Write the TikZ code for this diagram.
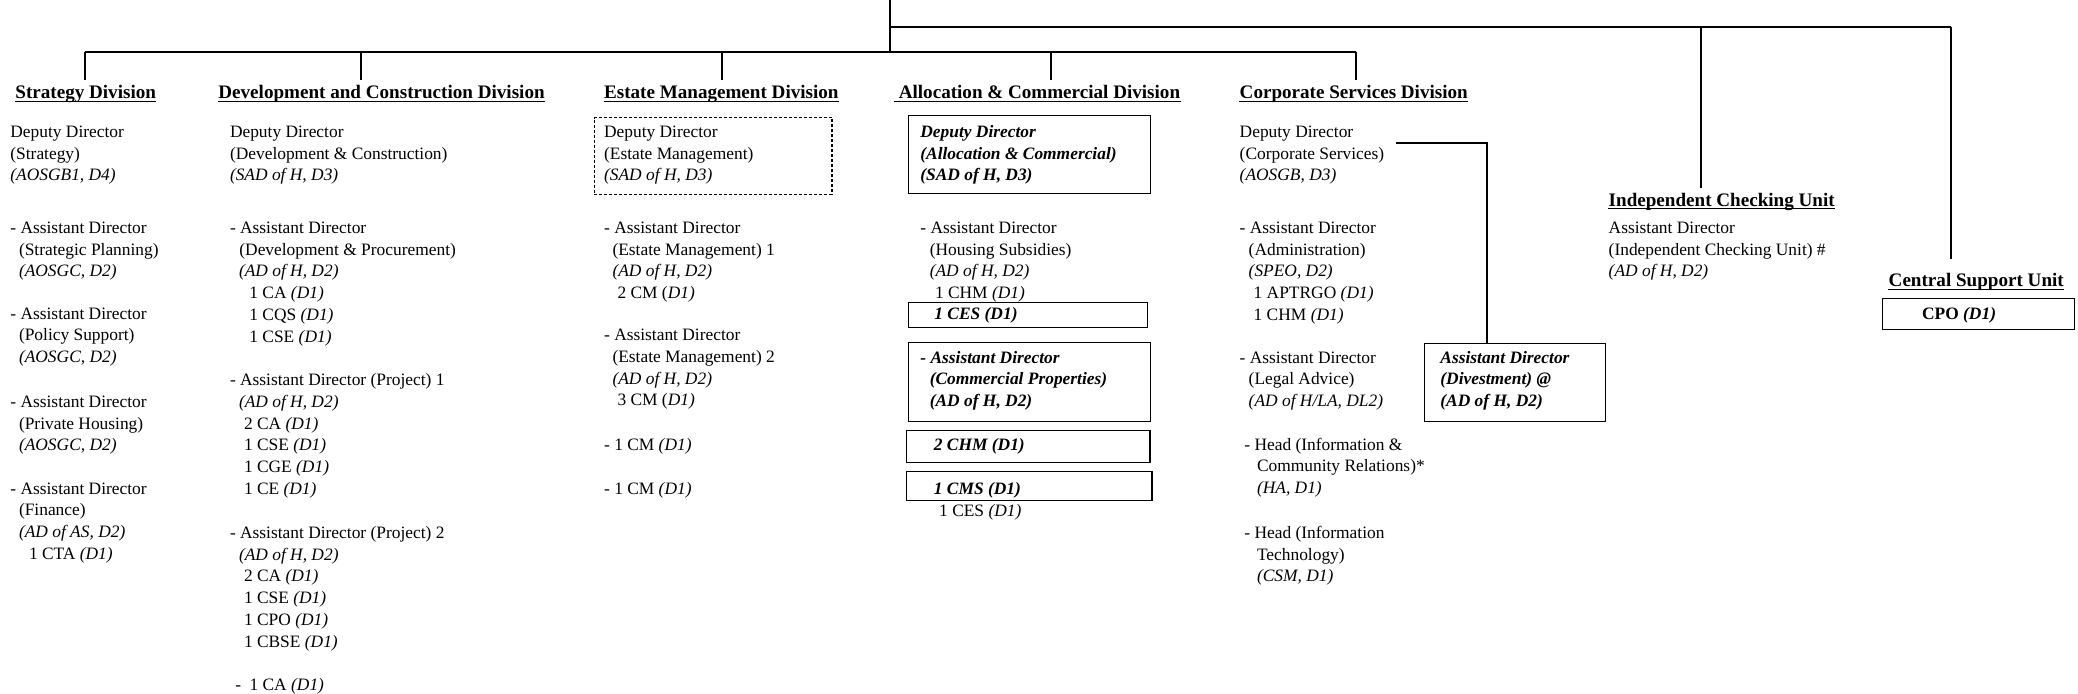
\documentclass[tikz,border=0pt]{standalone}
\usepackage{fontspec}
\setmainfont{Liberation Serif}
\begin{document}
\begin{tikzpicture}[x=0.5pt,y=-0.5pt,
  conn/.style={line width=0.85pt},
  ul/.style={line width=0.6pt},
  hd/.style={anchor=base west, inner sep=0pt, font=\fontsize{9.55}{11}\selectfont\bfseries},
  txt/.style={anchor=north west, inner sep=0pt, align=left, font=\fontsize{8.7}{10.85}\selectfont},
  bi/.style={txt, font=\fontsize{8.7}{10.85}\selectfont\bfseries\itshape},
  bx/.style={draw, line width=0.55pt, anchor=north west, inner sep=0pt},
  dbx/.style={bx, dash pattern=on 1.6pt off 0.9pt}]
\useasboundingbox (0,0) rectangle (2078,694);

% ---------- headings ----------
\node[hd] (hS) at (15,99) {Strategy Division};
\node[hd] (hD) at (218,99) {Development and Construction Division};
\node[hd] (hE) at (603.7,99) {Estate Management Division};
\node[hd] (hA) at (894,99) {\hspace*{2.2pt}Allocation \& Commercial Division};
\node[hd] (hC) at (1239.3,99) {Corporate Services Division};
\node[hd] (hI) at (1608.3,206.3) {Independent Checking Unit};
\node[hd] (hU) at (1888.3,287) {Central Support Unit};
\foreach \h in {hS,hD,hE,hA,hC,hI,hU}
  \draw[ul] ([yshift=-1.2pt]\h.base west) -- ([yshift=-1.2pt]\h.base east);

% ---------- bus connectors ----------
\coordinate (top) at (890,0);
\coordinate (b1) at (890,51.7);
\coordinate (b2) at (890,26.7);
\coordinate (jS) at (85,51.7);
\coordinate (jD) at (360.7,51.7);
\coordinate (jE) at (722,51.7);
\coordinate (jA) at (1051,51.7);
\coordinate (jC) at (1356,51.7);
\coordinate (jI) at (1701,26.7);
\coordinate (jU) at (1951,26.7);
\draw[conn] (top) -- (b1);
\draw[conn] (jS) -- (jC);
\draw[conn] (b2) -- (jU);
\draw[conn] (jS) -- (jS |- 0,80);
\draw[conn] (jD) -- (jD |- 0,80);
\draw[conn] (jE) -- (jE |- 0,80);
\draw[conn] (jA) -- (jA |- 0,80);
\draw[conn] (jC) -- (jC |- 0,80);
\draw[conn] (jI) -- (jI |- 0,187.7);
\draw[conn] (jU) -- (jU |- 0,259.3);

% ---------- Strategy ----------
\node[txt] (s0) at (10,122) {\strut Deputy Director\\(Strategy)\\\textit{(AOSGB1, D4)}};
\node[txt] (s1) at (10,218) {\strut - Assistant Director\\\hspace*{4.3pt}(Strategic Planning)\\\hspace*{4.3pt}\textit{(AOSGC, D2)}};
\node[txt] (s2) at (10,303.6) {\strut - Assistant Director\\\hspace*{4.3pt}(Policy Support)\\\hspace*{4.3pt}\textit{(AOSGC, D2)}};
\node[txt] (s3) at (10,392) {\strut - Assistant Director\\\hspace*{4.3pt}(Private Housing)\\\hspace*{4.3pt}\textit{(AOSGC, D2)}};
\node[txt] (s4) at (10,478.6) {\strut - Assistant Director\\\hspace*{4.3pt}(Finance)\\\hspace*{4.3pt}\textit{(AD of AS, D2)}\\\hspace*{9.3pt}1 CTA \textit{(D1)}};

% ---------- Development and Construction ----------
\node[txt] (d0) at (229.6,122) {\strut Deputy Director\\(Development \& Construction)\\\textit{(SAD of H, D3)}};
\node[txt] (d1) at (229.6,218) {\strut - Assistant Director\\\hspace*{4.7pt}(Development \& Procurement)\\\hspace*{4.5pt}\textit{(AD of H, D2)}\\\hspace*{9.7pt}1 CA \textit{(D1)}\\\hspace*{9.7pt}1 CQS \textit{(D1)}\\\hspace*{9.7pt}1 CSE \textit{(D1)}};
\node[txt] (d2) at (229.6,370.3) {\strut - Assistant Director (Project) 1\\\hspace*{4.5pt}\textit{(AD of H, D2)}\\\hspace*{7pt}2 CA \textit{(D1)}\\\hspace*{7pt}1 CSE \textit{(D1)}\\\hspace*{7pt}1 CGE \textit{(D1)}\\\hspace*{7pt}1 CE \textit{(D1)}};
\node[txt] (d3) at (229.6,523) {\strut - Assistant Director (Project) 2\\\hspace*{4.5pt}\textit{(AD of H, D2)}\\\hspace*{7pt}2 CA \textit{(D1)}\\\hspace*{7pt}1 CSE \textit{(D1)}\\\hspace*{7pt}1 CPO \textit{(D1)}\\\hspace*{7pt}1 CBSE \textit{(D1)}};
\node[txt] (d4) at (235,674.6) {\strut -\hspace*{4.2pt}1 CA \textit{(D1)}};

% ---------- Estate Management ----------
\node[dbx, minimum width=118.95pt, minimum height=38.5pt] (eBox) at (593.5,117) {};
\node[txt] (e0) at (603.7,122) {\strut Deputy Director\\(Estate Management)\\\textit{(SAD of H, D3)}};
\node[txt] (e1) at (603.7,218) {\strut - Assistant Director\\\hspace*{4.2pt}(Estate Management) 1\\\hspace*{4.2pt}\textit{(AD of H, D2)}\\\hspace*{6.7pt}2 CM (\textit{D1)}};
\node[txt] (e2) at (603.7,325.3) {\strut - Assistant Director\\\hspace*{4.2pt}(Estate Management) 2\\\hspace*{4.2pt}\textit{(AD of H, D2)}\\\hspace*{6.7pt}3 CM (\textit{D1)}};
\node[txt] (e3) at (603.7,434.6) {\strut - 1 CM \textit{(D1)}};
\node[txt] (e4) at (603.7,478.6) {\strut - 1 CM \textit{(D1)}};

% ---------- Allocation & Commercial ----------
\node[bx, minimum width=121pt, minimum height=39pt] (aBox) at (907.8,115) {};
\node[bi] (a0) at (920,122) {\strut Deputy Director\\(Allocation \& Commercial)\\(SAD of H, D3)};
\node[txt] (a1) at (920,218) {\strut - Assistant Director\\\hspace*{4.7pt}(Housing Subsidies)\\\hspace*{4.7pt}\textit{(AD of H, D2)}\\\hspace*{7.3pt}1 CHM \textit{(D1)}};
\node[bx, minimum width=119.35pt, minimum height=12.5pt] (cesBox) at (907.8,302.3) {};
\node[bi] (a2) at (934,303.6) {\strut 1 CES (D1)};
\node[bx, minimum width=121pt, minimum height=39.35pt] (cpBox) at (907.8,342) {};
\node[bi] (a3) at (920,347.6) {\strut - Assistant Director\\\hspace*{4.7pt}(Commercial Properties)\\\hspace*{4.7pt}(AD of H, D2)};
\node[bx, minimum width=121.7pt, minimum height=16pt] (chmBox) at (906,430) {};
\node[bi] (a4) at (933.5,434.6) {\strut 2 CHM (D1)};
\node[bx, minimum width=122.7pt, minimum height=14.5pt] (cmsBox) at (906,470.7) {};
\node[bi] (a5) at (933.5,478.6) {\strut 1 CMS (D1)};
\node[txt] (a6) at (938.8,501) {\strut 1 CES \textit{(D1)}};

% ---------- Corporate Services ----------
\node[txt] (c0) at (1239.3,122) {\strut Deputy Director\\(Corporate Services)\\\textit{(AOSGB, D3)}};
\node[txt] (c1) at (1239.3,218) {\strut - Assistant Director\\\hspace*{4.5pt}(Administration)\\\hspace*{4.5pt}\textit{(SPEO, D2)}\\\hspace*{7pt}1 APTRGO \textit{(D1)}\\\hspace*{7pt}1 CHM \textit{(D1)}};
\node[txt] (c2) at (1239.3,347.6) {\strut - Assistant Director\\\hspace*{4.5pt}(Legal Advice)\\\hspace*{4.5pt}\textit{(AD of H/LA, DL2)}};
\node[txt] (c3) at (1244,434.6) {\strut - Head (Information \&\\\hspace*{6.3pt}Community Relations)*\\\hspace*{6.3pt}\textit{(HA, D1)}};
\node[txt] (c4) at (1244,523) {\strut - Head (Information\\\hspace*{6.3pt}Technology)\\\hspace*{6.3pt}\textit{(CSM, D1)}};
\node[bx, minimum width=90.5pt, minimum height=39pt] (divBox) at (1424,343) {};
\node[bi] (dv) at (1440,347.6) {\strut Assistant Director\\(Divestment) @\\(AD of H, D2)};
\coordinate (cStart) at (1396,143.3);
\coordinate (cTurn) at (1487,143.3);
\draw[conn] (cStart) -- (cTurn) -- (cTurn |- divBox.north);

% ---------- Independent Checking Unit ----------
\node[txt] (i0) at (1608.3,218) {\strut Assistant Director\\(Independent Checking Unit) \#\\\textit{(AD of H, D2)}};

% ---------- Central Support Unit ----------
\node[bx, minimum width=96.3pt, minimum height=15.35pt] (cpoBox) at (1881.7,298.3) {};
\node[txt, font=\fontsize{8.7}{10.85}\selectfont\bfseries] (u0) at (1921.7,303.6) {\strut CPO \textit{(D1)}};
\end{tikzpicture}
\end{document}
